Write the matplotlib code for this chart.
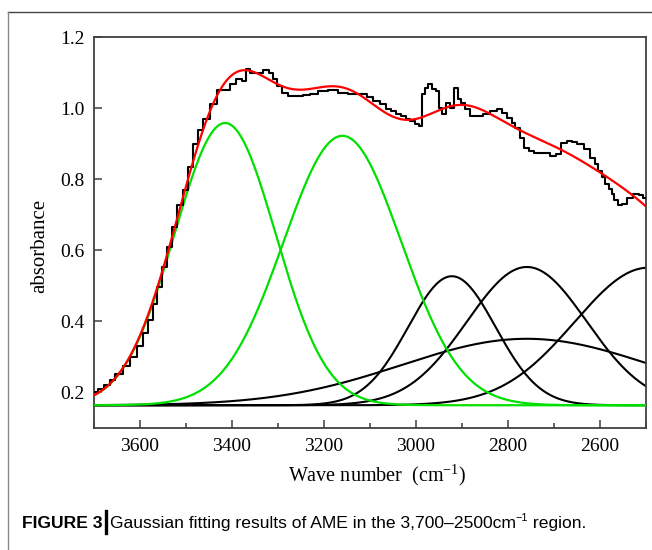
import matplotlib
matplotlib.use('Agg')
import matplotlib.pyplot as plt
import matplotlib.font_manager as fm
from matplotlib.lines import Line2D
from matplotlib.ticker import MultipleLocator
import numpy as np

# Gaussian fitting of the AME spectrum, 3700-2500 cm-1

plt.rcParams['font.family'] = 'Liberation Serif'
plt.rcParams['mathtext.fontset'] = 'custom'
plt.rcParams['mathtext.rm'] = 'Liberation Serif'
plt.rcParams['mathtext.it'] = 'Liberation Serif:italic'

wave = [3698, 3685, 3672, 3660, 3648, 3628, 3615, 3600, 3589, 3578, 3567, 3557,
        3546, 3535, 3524, 3513, 3502, 3491, 3480, 3470, 3454, 3441, 3426, 3411,
        3398, 3383, 3372, 3367, 3354, 3339, 3328, 3313, 3307, 3296, 3285, 3270,
        3252, 3238, 3224, 3202, 3180, 3159, 3137, 3115, 3100, 3086, 3072, 3060,
        3050, 3038, 3028, 3017, 3007, 2998, 2991, 2983, 2977, 2970, 2959, 2952,
        2948, 2941, 2930, 2922, 2911, 2905, 2898, 2889, 2878, 2861, 2846, 2833,
        2817, 2807, 2796, 2788, 2780, 2770, 2759, 2748, 2737, 2726, 2715, 2702,
        2691, 2680, 2665, 2655, 2643, 2628, 2615, 2608, 2600, 2592, 2585, 2578,
        2572, 2565, 2557, 2546, 2535, 2520, 2510, 2502]
absorb = [0.200, 0.209, 0.222, 0.236, 0.252, 0.274, 0.300, 0.330, 0.366, 0.405, 0.450, 0.497,
          0.553, 0.610, 0.666, 0.726, 0.770, 0.834, 0.898, 0.938, 0.970, 1.012, 1.050, 1.050,
          1.067, 1.081, 1.076, 1.109, 1.098, 1.098, 1.106, 1.098, 1.081, 1.062, 1.042, 1.034,
          1.034, 1.036, 1.039, 1.048, 1.050, 1.042, 1.039, 1.039, 1.030, 1.020, 1.011, 0.998,
          0.992, 0.984, 0.978, 0.970, 0.964, 0.956, 0.950, 1.040, 1.056, 1.067, 1.053, 1.048,
          1.000, 0.983, 1.014, 1.000, 1.056, 1.025, 1.014, 0.997, 0.978, 0.978, 0.983, 0.992,
          0.997, 0.986, 0.972, 0.958, 0.944, 0.916, 0.888, 0.880, 0.874, 0.874, 0.874, 0.866,
          0.871, 0.902, 0.908, 0.905, 0.899, 0.885, 0.860, 0.842, 0.824, 0.805, 0.787, 0.772,
          0.759, 0.742, 0.726, 0.731, 0.748, 0.759, 0.755, 0.748]

# fitted Gaussian components: centre, peak height, width (sigma)
baseline = 0.164
green_centers = [3415, 3160]
green_heights = [0.958, 0.922]
green_widths = [110, 128]
black_centers = [2922, 2759, 2759, 2495]
black_heights = [0.527, 0.553, 0.351, 0.551]
black_widths = [95, 130, 272, 160]

x_ticks = [3600, 3400, 3200, 3000, 2800, 2600]
y_ticks = [0.2, 0.4, 0.6, 0.8, 1.0, 1.2]


def gauss(x, c, h, w):
    return (h - baseline) * np.exp(-(x - c) ** 2 / (2.0 * w ** 2))


x = np.linspace(3700, 2500, 800)

fig = plt.figure(figsize=(6.52, 5.5), dpi=100)
ax = fig.add_axes([94 / 652, 1 - 428 / 550, 552 / 652, 391 / 550])

fit = np.full_like(x, baseline)
for c, h, w in zip(black_centers, black_heights, black_widths):
    g = gauss(x, c, h, w)
    fit += g
    ax.plot(x, baseline + g, color='black', lw=1.5, zorder=2)
for c, h, w in zip(green_centers, green_heights, green_widths):
    g = gauss(x, c, h, w)
    fit += g
    ax.plot(x, baseline + g, color='#00e000', lw=1.6, zorder=3)

ax.plot(wave, absorb, color='black', lw=1.5, drawstyle='steps-mid', zorder=4)
ax.plot(x, fit, color='#ff0000', lw=1.6, zorder=5)

ax.set_xlim(3700, 2500)
ax.set_ylim(0.1, 1.2)
ax.set_xticks(x_ticks)
ax.set_yticks(y_ticks)
ax.set_yticklabels(['%.1f' % v for v in y_ticks])
ax.xaxis.set_minor_locator(MultipleLocator(100))
ax.tick_params(direction='in', length=6, width=1.1, color='#404040',
               labelsize=14, pad=7)
ax.tick_params(axis='x', which='minor', direction='in', length=3.5, width=1.1,
               color='#404040')
for s in ax.spines.values():
    s.set_color('#404040')
    s.set_linewidth(1.3)

ax.set_xlabel('Wave number  (cm$^{\\mathregular{-1}}$)', fontsize=14.5)
ax.xaxis.set_label_coords(0.513, -0.12)
ax.xaxis.label.set_va('center')
ax.set_ylabel('absorbance', fontsize=15)
ax.yaxis.set_label_coords(-0.098, 0.465)
ax.yaxis.label.set_va('center')

# frame lines of the page
fig.add_artist(Line2D([8 / 652, 1], [1 - 12 / 550, 1 - 12 / 550], color='#444444', lw=1.0))
fig.add_artist(Line2D([8 / 652, 8 / 652], [0, 1 - 12 / 550], color='#888888', lw=1.0))

# caption
names = {f.name for f in fm.fontManager.ttflist}
cap_font = 'Liberation Sans Narrow' if 'Liberation Sans Narrow' in names else 'Liberation Sans'
cap_size = 14.5 if cap_font == 'Liberation Sans Narrow' else 12.6
renderer = fig.canvas.get_renderer()
base_y = 1 - 528 / 550
xpos = 22


def put(txt, size, weight='normal', dy=0.0):
    global xpos
    t = fig.text(xpos / 652, base_y + dy / 550, txt, fontsize=size, weight=weight,
                 family=cap_font, ha='left', va='baseline')
    xpos += t.get_window_extent(renderer).width
    return t


put('FIGURE 3', cap_size, 'bold')
xpos += 3
fig.add_artist(Line2D([xpos / 652, xpos / 652], [1 - 533 / 550, 1 - 511 / 550],
                      color='black', lw=2.4))
xpos += 4
put('Gaussian fitting results of AME in the 3,700\u20132500cm', cap_size)
put('\u22121', cap_size * 0.62, dy=7)
put(' region.', cap_size)

fig.savefig('out.png', dpi=100)
